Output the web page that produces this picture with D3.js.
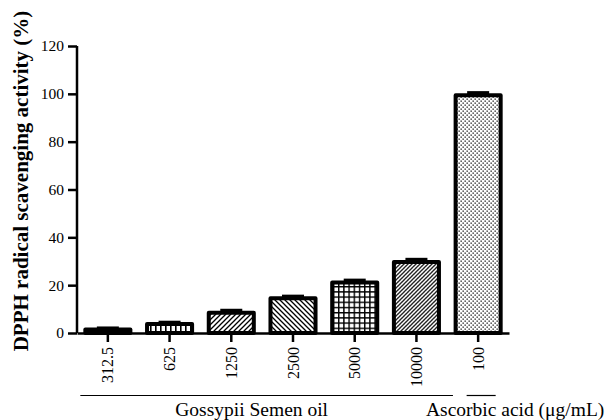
<!DOCTYPE html>
<html>
<head>
<meta charset="utf-8">
<script src="https://cdn.jsdelivr.net/npm/d3@7"></script>
<style>
  body { margin: 0; background: #fff; }
  text { font-family: "Liberation Serif", "Times New Roman", serif; fill: #000; }
</style>
</head>
<body>
<div id="chart"></div>
<script>
const concentrations = ['312.5', '625', '1250', '2500', '5000', '10000', '100'];
const scavenging = [1.5, 3.8, 8.5, 14.5, 21.1, 29.7, 99.4];
const sem = [0.4, 0.5, 0.8, 0.7, 0.8, 0.9, 0.9];
const fills = ['solid', 'vlines', 'fdiag', 'bdiag', 'grid', 'dense', 'dots'];
const yTicks = [0, 20, 40, 60, 80, 100, 120];
const groupLabels = ['Gossypii Semen oil', 'Ascorbic acid (\u03bcg/mL)'];
const groupStart = [0, 6];
const groupEnd = [5, 6];

const width = 609;
const height = 420;
const margin = {top: 46, right: 100, bottom: 87, left: 77};

const svg = d3.select('#chart').append('svg')
    .attr('width', width)
    .attr('height', height);

// hatch patterns
const defs = svg.append('defs');
function pattern(id, size) {
  return defs.append('pattern')
      .attr('id', id)
      .attr('patternUnits', 'userSpaceOnUse')
      .attr('width', size)
      .attr('height', size);
}
function bg(p, size) {
  p.append('rect').attr('width', size).attr('height', size).attr('fill', '#fff');
}
let p = pattern('vlines', 5); bg(p, 5);
p.append('rect').attr('x', 0).attr('width', 1.6).attr('height', 5).attr('fill', '#000');

p = pattern('fdiag', 5); bg(p, 5);
p.append('path').attr('d', 'M-1,1 l2,-2 M0,5 l5,-5 M4,6 l2,-2')
    .attr('stroke', '#000').attr('stroke-width', 1.3);

p = pattern('bdiag', 5); bg(p, 5);
p.append('path').attr('d', 'M-1,4 l2,2 M0,0 l5,5 M4,-1 l2,2')
    .attr('stroke', '#000').attr('stroke-width', 1.3);

p = pattern('grid', 5.2); bg(p, 5.2);
p.append('rect').attr('width', 1.4).attr('height', 5.2).attr('fill', '#000');
p.append('rect').attr('width', 5.2).attr('height', 1.4).attr('fill', '#000');

p = pattern('dense', 4); bg(p, 4);
p.append('path').attr('d', 'M-1,1 l2,-2 M0,4 l4,-4 M3,5 l2,-2')
    .attr('stroke', '#222').attr('stroke-width', 1.3);
p.append('path').attr('d', 'M0,0 l4,4')
    .attr('stroke', '#888').attr('stroke-width', 0.6);

p = pattern('dots', 4); bg(p, 4);
p.append('rect').attr('x', 0.5).attr('y', 0.5).attr('width', 1.3).attr('height', 1.3).attr('fill', '#111');
p.append('rect').attr('x', 2.5).attr('y', 2.5).attr('width', 1.3).attr('height', 1.3).attr('fill', '#111');

const x = d3.scaleBand()
    .domain(concentrations.map((d, i) => i))
    .range([margin.left, width - margin.right])
    .paddingInner(0.27)
    .paddingOuter(0.135);

const y = d3.scaleLinear()
    .domain([0, 120])
    .range([height - margin.bottom, margin.top]);

// bars
const bars = svg.append('g').attr('name', 'bars');
bars.selectAll('rect')
    .data(scavenging)
    .enter()
    .append('rect')
    .attr('x', (d, i) => x(i))
    .attr('y', (d) => y(d))
    .attr('width', x.bandwidth())
    .attr('height', (d) => y(0) - y(d))
    .attr('fill', (d, i) => fills[i] == 'solid' ? '#000' : `url(#${fills[i]})`)
    .attr('stroke', '#000')
    .attr('stroke-width', 4)
    .attr('stroke-linejoin', 'round');

// error caps
const capWidth = 22;
bars.selectAll('line.err')
    .data(scavenging)
    .enter()
    .append('line')
    .classed('err', true)
    .attr('x1', (d, i) => x(i) + x.bandwidth() / 2 - capWidth / 2)
    .attr('x2', (d, i) => x(i) + x.bandwidth() / 2 + capWidth / 2)
    .attr('y1', (d, i) => y(d + sem[i]) - 0.5)
    .attr('y2', (d, i) => y(d + sem[i]) - 0.5)
    .attr('stroke', '#000')
    .attr('stroke-width', 3);

// y axis
const yAxis = svg.append('g')
    .attr('transform', `translate(${margin.left},0)`)
    .call(d3.axisLeft(y).tickValues(yTicks).tickSize(9).tickPadding(4));
yAxis.select('.domain').attr('stroke-width', 2.5).attr('d', `M0,${y(120)}V${y(0)}`);
yAxis.selectAll('.tick line').attr('stroke-width', 2.5);
yAxis.selectAll('.tick text')
    .style('font-family', '"Liberation Serif", serif')
    .style('font-size', '15.5px')
    .attr('fill', '#000');

// x axis
const xAxis = svg.append('g')
    .attr('transform', `translate(0,${y(0)})`)
    .call(d3.axisBottom(x).tickFormat((i) => concentrations[i]).tickSize(9).tickSizeOuter(0));
xAxis.select('.domain').attr('stroke-width', 2.5);
xAxis.selectAll('.tick line').attr('stroke-width', 2.5);
xAxis.selectAll('.tick text')
    .style('font-family', '"Liberation Serif", serif')
    .style('font-size', '16px')
    .attr('fill', '#000')
    .attr('transform', 'rotate(-90)')
    .attr('text-anchor', 'end')
    .attr('x', -14)
    .attr('y', 0)
    .attr('dy', '0.35em');

// group lines and labels
const groupY = 395.5;
const lineX1 = [x(groupStart[0]) - 5, x(groupStart[1]) + 11];
const lineX2 = [x(groupEnd[0]) + x.bandwidth() + 14, x(groupEnd[1]) + x.bandwidth() - 5];
const labelShift = [-15, 34];
const groups = svg.append('g').attr('name', 'groups');
groupLabels.forEach((label, i) => {
  groups.append('line')
      .attr('x1', lineX1[i])
      .attr('x2', lineX2[i])
      .attr('y1', groupY)
      .attr('y2', groupY)
      .attr('stroke', '#000')
      .attr('stroke-width', 1.2);
  groups.append('text')
      .attr('x', (lineX1[i] + lineX2[i]) / 2 + labelShift[i])
      .attr('y', groupY + 20)
      .attr('text-anchor', 'middle')
      .style('font-size', '19.5px')
      .text(label);
});

// y label
svg.append('text')
    .attr('transform', `translate(28,${181}) rotate(-90)`)
    .attr('text-anchor', 'middle')
    .style('font-size', '21px')
    .style('font-weight', 'bold')
    .text('DPPH radical scavenging activity (%)');
</script>
</body>
</html>
